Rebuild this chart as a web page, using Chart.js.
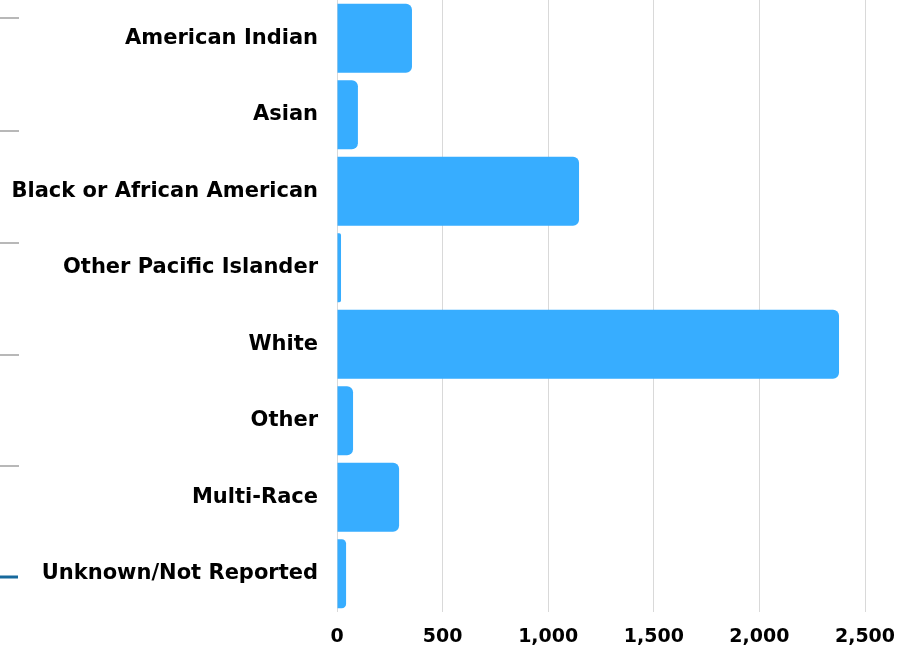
<!DOCTYPE html>
<html><head><meta charset="utf-8">
<script src="https://cdn.jsdelivr.net/npm/chart.js@4"></script>
<style>html,body{margin:0;padding:0;background:#fff}#wrap{width:910px;height:647px;position:relative}</style>
</head><body><div id="wrap"><canvas id="c"></canvas></div>
<script>
const categories = ["American Indian","Asian","Black or African American","Other Pacific Islander","White","Other","Multi-Race","Unknown/Not Reported"];
const counts = [355, 99, 1146, 19, 2377, 76, 294, 43];
const xTicks = [0, 500, 1000, 1500, 2000, 2500];

const FONT = "'DejaVu Sans', sans-serif";

const sideMarks = {
  id: 'sideMarks',
  afterDraw(chart) {
    const ctx = chart.ctx;
    ctx.save();
    const ys = [18, 131, 243, 355, 466];
    ctx.strokeStyle = '#b8b8b8'; ctx.lineWidth = 2;
    ys.forEach(y => { ctx.beginPath(); ctx.moveTo(0, y); ctx.lineTo(19, y); ctx.stroke(); });
    ctx.strokeStyle = '#17699c'; ctx.lineWidth = 3;
    ctx.beginPath(); ctx.moveTo(0, 577); ctx.lineTo(18, 577); ctx.stroke();
    ctx.restore();
  }
};

new Chart(document.getElementById('c'), {
  type: 'bar',
  data: { labels: categories, datasets: [{ data: counts, backgroundColor: '#37adff', borderRadius: 6, borderSkipped: 'start', categoryPercentage: 0.9, barPercentage: 1 }] },
  options: {
    indexAxis: 'y', responsive: true, maintainAspectRatio: false, animation: false,
    layout: { padding: { top: 0, right: 45, bottom: 0, left: 0 } },
    plugins: { legend: { display: false }, tooltip: { enabled: false } },
    scales: {
      x: {
        min: 0, max: 2500,
        afterBuildTicks: s => { s.ticks = xTicks.map(v => ({ value: v })); },
        afterFit: s => { s.height = 35; s.paddingLeft = 0; s.paddingRight = 0; },
        grid: { color: '#d9d9d9', lineWidth: 1, drawTicks: false },
        border: { display: false },
        ticks: { padding: 14, color: '#000', font: { family: FONT, size: 19, weight: 'bold' }, callback: v => v.toLocaleString('en-US') }
      },
      y: {
        afterFit: s => { s.width = 337; s.paddingTop = 0; s.paddingBottom = 0; },
        grid: { display: false, drawTicks: false },
        border: { display: false },
        ticks: { padding: 19, color: '#000', font: { family: FONT, size: 21, weight: 'bold' } }
      }
    }
  },
  plugins: [sideMarks]
});
</script></body></html>
